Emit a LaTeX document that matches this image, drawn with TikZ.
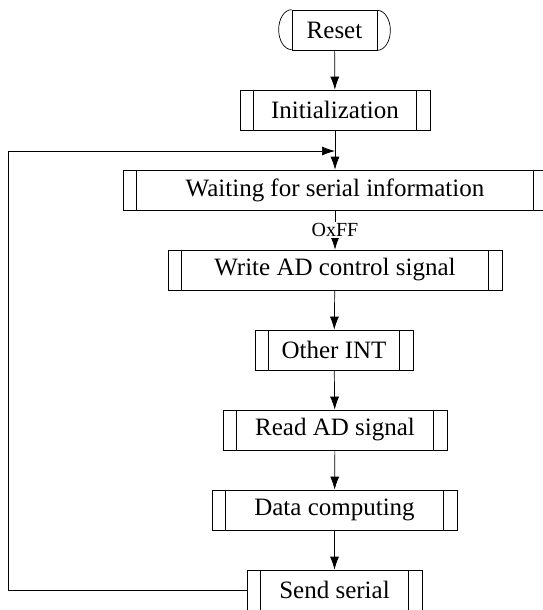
\documentclass[tikz,border=0pt]{standalone}
\usepackage{fontspec}
\setmainfont{Liberation Serif}
\usetikzlibrary{arrows.meta}
\begin{document}
\begin{tikzpicture}[x=1pt,y=-1pt,
  line width=0.7pt,
  every node/.style={font=\fontsize{25}{28}\selectfont},
  sub/.style={draw, minimum height=40pt, inner sep=0pt,
    path picture={\draw[line width=0.7pt]
      ([xshift=13.5pt]path picture bounding box.north west) -- ([xshift=13.5pt]path picture bounding box.south west)
      ([xshift=-13.5pt]path picture bounding box.north east) -- ([xshift=-13.5pt]path picture bounding box.south east);}},
  arr/.style={-{Latex[length=13pt,width=9pt]}},
  lbl/.style={fill=white, inner sep=1pt, font=\fontsize{20}{22}\selectfont}]
\useasboundingbox (0,0) rectangle (542,610);
\node[draw, minimum width=85pt, minimum height=40pt, inner sep=0pt] (reset) at (334.5,30) {Reset};
\draw (reset.north west) arc[start angle=90, end angle=270, x radius=13pt, y radius=20pt];
\draw (reset.south east) arc[start angle=-90, end angle=90, x radius=13pt, y radius=20pt];
\node[sub, minimum width=190pt] (init) at (335,110) {Initialization};
\node[sub, minimum width=424pt] (wait) at (335,190) {Waiting for serial information};
\node[sub, minimum width=334pt] (write) at (335,270) {Write AD control signal};
\node[sub, minimum width=158pt] (other) at (334,350) {Other INT};
\node[sub, minimum width=224pt] (read) at (335,430) {Read AD signal};
\node[sub, minimum width=245pt] (data) at (334.5,510) {Data computing};
\node[sub, minimum width=175pt] (send) at (334.5,590) {Send serial};
\coordinate (join) at (335,151);
\coordinate (corner) at (8,590);
\draw[arr] (reset) -- (init);
\draw[arr] (init) -- (wait);
\draw[arr] (wait) -- node[lbl] (ox) {OxFF} (write);
\draw[arr] (write) -- (other);
\draw[arr] (other) -- (read);
\draw[arr] (read) -- (data);
\draw[arr] (data) -- (send);
\draw[arr] (send.west) -- (corner) |- (join);
\end{tikzpicture}
\end{document}
